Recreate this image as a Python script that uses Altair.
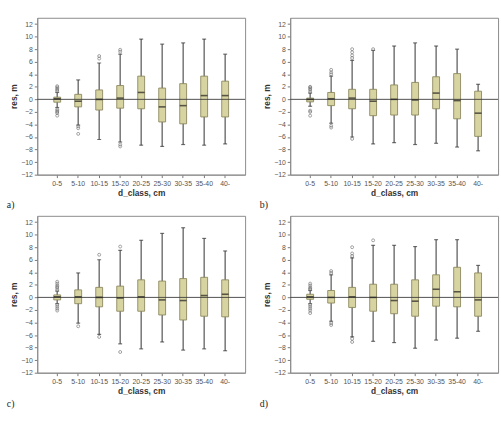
import altair as alt
import pandas as pd

classes = ["0-5", "5-10", "10-15", "15-20", "20-25", "25-30", "30-35", "35-40", "40-"]

# panel a)
a_low  = [-1.3, -4.1, -6.4, -6.8, -7.3, -7.5, -7.2, -7.3, -7.1]
a_q1   = [-0.45, -1.2, -1.7, -1.4, -1.5, -3.6, -3.9, -2.8, -2.8]
a_med  = [0.1, -0.3, 0.0, 0.2, 1.1, -1.2, -1.0, 0.6, 0.6]
a_q3   = [0.35, 0.8, 1.5, 2.2, 3.7, 1.8, 2.5, 3.7, 2.9]
a_high = [1.1, 3.1, 5.8, 7.2, 9.6, 8.8, 9.0, 9.6, 7.2]
a_out_cls = ["0-5"] * 10 + ["5-10"] * 3 + ["10-15"] * 2 + ["15-20"] * 4
a_out_val = [1.3, 1.5, 1.7, 1.9, 2.1, -1.6, -1.8, -2.0, -2.2, -2.6,
             -4.3, -4.6, -5.5, 6.5, 6.9, 7.6, 7.9, -7.2, -7.5]

# panel b)
b_low  = [-1.1, -3.8, -6.0, -7.1, -6.9, -7.2, -7.0, -7.6, -8.2]
b_q1   = [-0.4, -1.0, -1.5, -2.6, -2.5, -2.5, -1.5, -3.1, -5.9]
b_med  = [0.0, 0.1, 0.2, -0.3, 0.0, -0.1, 1.0, -0.2, -2.2]
b_q3   = [0.2, 1.1, 1.6, 1.6, 2.3, 2.7, 3.6, 4.1, 1.3]
b_high = [1.0, 3.7, 6.2, 7.8, 8.5, 9.0, 8.5, 8.0, 2.4]
b_out_cls = ["0-5"] * 8 + ["5-10"] * 5 + ["10-15"] * 5 + ["15-20"]
b_out_val = [1.2, 1.5, 1.7, 1.9, 2.0, -1.8, -2.0, -2.6,
             4.0, 4.3, 4.7, -4.2, -4.5, 6.6, 7.0, 7.5, 8.0, -6.3, 8.0]

# panel c)
c_low  = [-1.0, -4.1, -5.9, -7.4, -8.2, -7.1, -8.4, -8.2, -8.5]
c_q1   = [-0.4, -1.0, -1.5, -2.2, -2.2, -2.8, -3.6, -3.0, -3.1]
c_med  = [0.1, 0.1, 0.0, -0.1, 0.1, -0.4, -0.5, 0.3, 0.5]
c_q3   = [0.4, 1.2, 1.6, 1.8, 2.8, 2.6, 3.0, 3.2, 2.8]
c_high = [1.0, 3.9, 6.0, 7.5, 9.1, 10.2, 11.1, 9.4, 7.4]
c_out_cls = ["0-5"] * 10 + ["5-10"] + ["10-15"] * 2 + ["15-20"] * 2
c_out_val = [1.2, 1.5, 1.7, 1.9, 2.2, 2.5, -1.2, -1.5, -1.8, -2.1,
             -4.6, 6.8, -6.3, 8.1, -8.7]

# panel d)
d_low  = [-1.0, -3.8, -6.3, -7.0, -7.2, -8.1, -6.8, -6.5, -5.4]
d_q1   = [-0.3, -0.9, -1.6, -2.2, -2.6, -3.0, -1.4, -1.5, -3.0]
d_med  = [0.1, 0.0, 0.1, 0.0, -0.5, -0.6, 1.3, 0.9, -0.4]
d_q3   = [0.5, 1.1, 1.6, 2.1, 2.1, 2.8, 3.6, 4.8, 3.9]
d_high = [1.1, 3.6, 6.3, 8.3, 8.3, 8.1, 9.2, 9.2, 5.1]
d_out_cls = ["0-5"] * 10 + ["5-10"] * 4 + ["10-15"] * 5 + ["15-20"]
d_out_val = [1.3, 1.6, 1.9, 2.2, 1.4, -1.2, -1.5, -1.8, -2.1, -2.5,
             3.9, 4.2, -4.1, -4.4, 6.6, 7.0, 8.0, -6.6, -7.1, 9.1]

BOX_FILL = "#d8d4a2"
BOX_STROKE = "#8b875d"
FONT = "Liberation Sans"

YDOM = [-12, 13]
YTICKS = list(range(-12, 13, 2))


def panel(low, q1, med, q3, high, out_cls, out_val, label):
    stats = pd.DataFrame({"cls": classes, "low": low, "q1": q1, "med": med,
                          "q3": q3, "high": high})
    outs = pd.DataFrame({"cls": out_cls, "val": out_val})
    x = alt.X("cls:N", sort=classes,
              scale=alt.Scale(paddingInner=0, paddingOuter=0.45),
              axis=alt.Axis(title="d_class, cm", labelAngle=0, titlePadding=2))
    yax = alt.Axis(title="res, m", values=YTICKS, titlePadding=2)
    ysc = alt.Scale(domain=YDOM, nice=False, zero=False)
    base = alt.Chart(stats)
    whisk = base.mark_rule(color="#6a6a6a", strokeWidth=1.4).encode(
        x=x, y=alt.Y("low:Q", scale=ysc, axis=yax), y2="high:Q")
    cap_lo = base.mark_tick(size=4, thickness=1.2, color="#333").encode(
        x=x, y=alt.Y("low:Q", scale=ysc, axis=yax))
    cap_hi = base.mark_tick(size=4, thickness=1.2, color="#333").encode(
        x=x, y=alt.Y("high:Q", scale=ysc, axis=yax))
    box = base.mark_bar(size=7, color=BOX_FILL, stroke=BOX_STROKE,
                        strokeWidth=0.9).encode(
        x=x, y=alt.Y("q1:Q", scale=ysc, axis=yax), y2="q3:Q")
    zero = alt.Chart(pd.DataFrame({"z": [0]})).mark_rule(
        color="#3a3a3a", strokeWidth=0.9).encode(y=alt.Y("z:Q", scale=ysc, axis=yax))
    median = base.mark_tick(size=7, thickness=1.6, color="#1e1e1e").encode(
        x=x, y=alt.Y("med:Q", scale=ysc, axis=yax))
    pts = alt.Chart(outs).mark_point(shape="circle", size=9, filled=False,
                                     color="#6a6a6a", strokeWidth=0.9).encode(
        x=x, y=alt.Y("val:Q", scale=ysc, axis=yax))
    return alt.layer(whisk, cap_lo, cap_hi, box, zero, median, pts).properties(
        width=212, height=160,
        title=alt.TitleParams(text=label, orient="bottom", anchor="start",
                              frame="group", font="Liberation Serif",
                              fontSize=10, fontWeight="normal", color="#222",
                              dx=-31, offset=4))


pa = panel(a_low, a_q1, a_med, a_q3, a_high, a_out_cls, a_out_val, "a)")
pb = panel(b_low, b_q1, b_med, b_q3, b_high, b_out_cls, b_out_val, "b)")
pc = panel(c_low, c_q1, c_med, c_q3, c_high, c_out_cls, c_out_val, "c)")
pd_ = panel(d_low, d_q1, d_med, d_q3, d_high, d_out_cls, d_out_val, "d)")

chart = alt.vconcat(
    alt.hconcat(pa, pb, spacing=13),
    alt.hconcat(pc, pd_, spacing=13),
    spacing=4,
).properties(
    padding={"left": 6, "top": 13, "right": 2, "bottom": 2},
    background="white",
).configure_view(
    stroke="#8a8a8a", strokeWidth=1
).configure_axis(
    labelFont=FONT, labelFontSize=7, labelColor="#555",
    titleFont=FONT, titleFontSize=8.5, titleFontWeight="bold", titleColor="#333",
    tickColor="#777", domainColor="#8a8a8a", grid=False, tickSize=3,
    labelPadding=2,
)

chart.save("out.html", embed_options={"renderer": "svg", "actions": False})
